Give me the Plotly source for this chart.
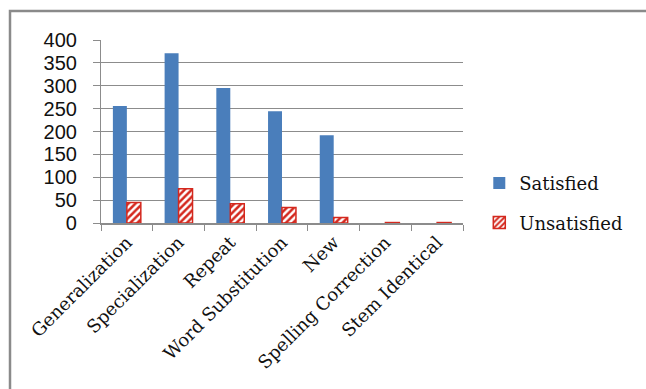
import plotly.graph_objects as go

categories = ["Generalization", "Specialization", "Repeat", "Word Substitution",
              "New", "Spelling Correction", "Stem Identical"]
satisfied = [256, 371, 295, 244, 192, 0, 0]
unsatisfied = [45, 75, 42, 34, 12, 1, 1]
y_ticks = [0, 50, 100, 150, 200, 250, 300, 350, 400]

BLUE = "#4A7EBB"
RED = "#D4281E"
GRID = "#8C8C8C"

fig = go.Figure()
fig.add_trace(go.Bar(
    x=categories, y=satisfied, name="Satisfied",
    marker=dict(color=BLUE, line=dict(color=BLUE, width=0)),
    legendgroup="a",
))
fig.add_trace(go.Bar(
    x=categories, y=unsatisfied, name="Unsatisfied",
    marker=dict(color="white", line=dict(color=RED, width=1.5),
                pattern=dict(shape="/", fgcolor=RED, bgcolor="white",
                             size=5, solidity=0.5, fillmode="overlay",
                             fgopacity=1)),
    legendgroup="b",
))

L, R, T, B = 101, 463, 40, 223
W, H = 646, 389

fig.update_layout(
    width=W, height=H,
    margin=dict(l=L, r=W - R, t=T, b=H - B, autoexpand=False),
    paper_bgcolor="white", plot_bgcolor="white",
    barmode="group", bargap=0.46, bargroupgap=0,
    showlegend=True,
    legend=dict(x=1.045, y=0.11, xanchor="left", yanchor="middle",
                font=dict(family="DejaVu Serif", size=18, color="#111"),
                tracegroupgap=13, bgcolor="rgba(0,0,0,0)"),
    xaxis=dict(
        showline=True, linecolor=GRID, linewidth=1.5,
        ticks="outside", tickson="boundaries", ticklen=6, tickcolor=GRID,
        tickangle=-45,
        tickfont=dict(family="DejaVu Serif", size=18, color="#111"),
        showgrid=False,
    ),
    yaxis=dict(
        range=[0, 400], tickvals=y_ticks, ticktext=[str(v) for v in y_ticks],
        showgrid=True, gridcolor=GRID, gridwidth=1.2,
        showline=True, linecolor=GRID, linewidth=1.2,
        ticks="outside", ticklen=7, tickcolor=GRID,
        ticklabelstandoff=12,
        tickfont=dict(family="Liberation Sans", size=20, color="#111"),
        zeroline=False,
    ),
    shapes=[dict(type="rect", xref="paper", yref="paper",
                 x0=(10 - L) / (R - L), x1=(W + 20 - L) / (R - L),
                 y0=(B - (H + 20)) / (B - T), y1=(B - 11) / (B - T),
                 line=dict(color="#8A8A8A", width=2.5), fillcolor="rgba(0,0,0,0)",
                 layer="below")],
)

fig.write_html("out.html")
